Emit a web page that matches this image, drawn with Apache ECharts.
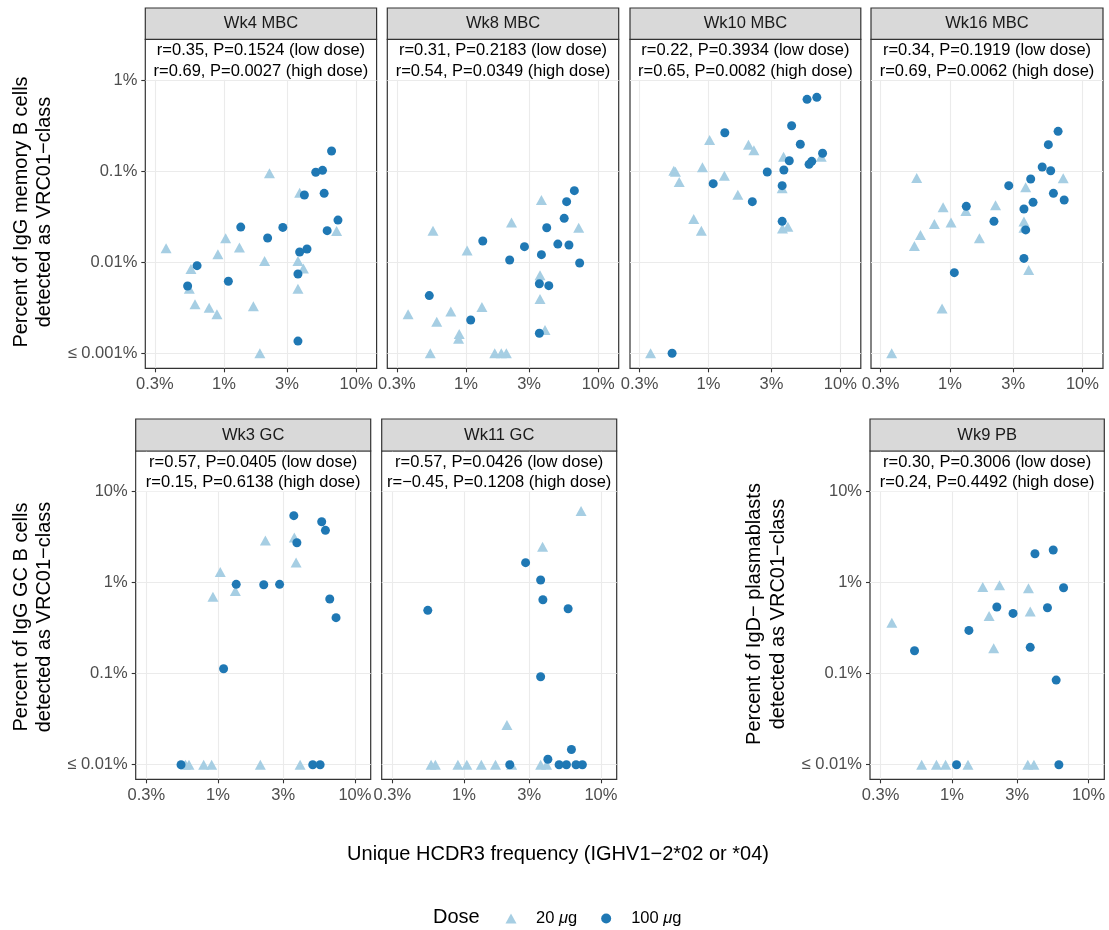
<!DOCTYPE html>
<html>
<head>
<meta charset="utf-8">
<script src="https://cdn.jsdelivr.net/npm/echarts@6/dist/echarts.min.js"></script>
<style>
html,body{margin:0;padding:0;background:#fff;}
#chart{width:1109px;height:930px;}
</style>
</head>
<body>
<div id="chart"></div>
<script>
// ---------------- DATA (x = unique HCDR3 frequency %, y = percent VRC01-class) ----------------
const panelNames = ['Wk4 MBC', 'Wk8 MBC', 'Wk10 MBC', 'Wk16 MBC', 'Wk3 GC', 'Wk11 GC', 'Wk9 PB'];
const panelStats = [
  'r=0.35, P=0.1524 (low dose)\nr=0.69, P=0.0027 (high dose)',
  'r=0.31, P=0.2183 (low dose)\nr=0.54, P=0.0349 (high dose)',
  'r=0.22, P=0.3934 (low dose)\nr=0.65, P=0.0082 (high dose)',
  'r=0.34, P=0.1919 (low dose)\nr=0.69, P=0.0062 (high dose)',
  'r=0.57, P=0.0405 (low dose)\nr=0.15, P=0.6138 (high dose)',
  'r=0.57, P=0.0426 (low dose)\nr=\u22120.45, P=0.1208 (high dose)',
  'r=0.30, P=0.3006 (low dose)\nr=0.24, P=0.4492 (high dose)'
];
const doseNames = ['20 \u03bcg', '100 \u03bcg'];

const xTickValues = [0.3, 1, 3, 10];
const xTickLabels = ['0.3%', '1%', '3%', '10%'];
const yTickValuesMBC = [0.001, 0.01, 0.1, 1];
const yTickLabelsMBC = ['\u2264 0.001%', '0.01%', '0.1%', '1%'];
const yTickValuesGC = [0.01, 0.1, 1, 10];
const yTickLabelsGC = ['\u2264 0.01%', '0.1%', '1%', '10%'];

const wk4MBC_20 = [[2.21,0.0945],[3.74,0.058],[7.12,0.022],[0.365,0.0142],[1.03,0.0183],[0.90,0.0122],[1.31,0.01445],[2.03,0.0103],[3.63,0.0103],[3.99,0.0085],[0.563,0.0084],[0.547,0.0051],[3.63,0.00512],[0.604,0.00345],[0.773,0.00317],[0.885,0.00268],[1.67,0.00328],[1.87,0.001]];
const wk4MBC_100 = [[6.52,0.166],[4.95,0.097],[5.57,0.102],[4.06,0.0547],[5.73,0.057],[7.29,0.029],[6.04,0.0222],[1.34,0.0243],[2.79,0.0241],[2.14,0.01845],[4.25,0.01396],[3.74,0.01294],[3.63,0.00742],[0.626,0.00916],[0.531,0.00548],[1.08,0.00617],[3.63,0.00136]];

const wk8MBC_20 = [[3.72,0.0482],[2.21,0.0272],[7.12,0.0239],[0.563,0.0222],[1.02,0.0134],[3.63,0.00718],[3.63,0.00395],[0.365,0.00268],[0.768,0.00287],[1.32,0.00322],[0.601,0.00222],[0.889,0.00163],[0.879,0.00144],[3.96,0.0018],[0.537,0.001],[1.65,0.001],[1.85,0.001],[2.02,0.001]];
const wk8MBC_100 = [[6.6,0.061],[5.77,0.0462],[5.53,0.0303],[4.08,0.0239],[4.95,0.0158],[6.01,0.01545],[1.34,0.0171],[2.77,0.0148],[3.72,0.0121],[2.14,0.01057],[7.24,0.0098],[3.59,0.0058],[4.23,0.00552],[0.528,0.0043],[1.086,0.00232],[3.59,0.00166]];

const wk10MBC_20 = [[1.02,0.219],[2.01,0.195],[2.21,0.169],[3.71,0.144],[7.16,0.144],[0.546,0.101],[0.562,0.0986],[0.90,0.110],[1.32,0.0891],[0.60,0.0759],[1.67,0.0551],[3.62,0.0647],[0.773,0.0298],[0.883,0.0222],[3.64,0.0235],[4.0,0.0245],[0.364,0.001]];
const wk10MBC_100 = [[5.59,0.613],[6.63,0.645],[4.27,0.315],[1.33,0.264],[4.97,0.197],[7.33,0.157],[4.10,0.130],[6.07,0.128],[5.79,0.1186],[2.79,0.0977],[3.73,0.1028],[1.086,0.0728],[3.62,0.0692],[2.15,0.0462],[3.62,0.0281],[0.53,0.001]];

const wk16MBC_20 = [[7.16,0.0833],[0.562,0.084],[3.73,0.0664],[2.21,0.0421],[0.889,0.040],[1.32,0.0365],[1.02,0.0272],[0.764,0.0262],[3.62,0.0279],[3.62,0.0239],[1.67,0.0183],[0.60,0.0199],[0.54,0.0151],[3.93,0.0082],[0.873,0.0031],[0.364,0.001]];
const wk16MBC_100 = [[6.55,0.273],[5.53,0.195],[4.97,0.111],[5.76,0.101],[2.78,0.0692],[4.07,0.0818],[6.04,0.057],[7.28,0.0482],[4.24,0.0454],[3.62,0.0384],[1.33,0.041],[2.15,0.0281],[3.73,0.0226],[3.62,0.0110],[1.08,0.00767]];

const wk3GC_20 = [[3.61,3.13],[2.22,2.90],[3.72,1.67],[1.04,1.31],[0.92,0.70],[1.34,0.81],[0.58,0.01],[0.615,0.01],[0.787,0.01],[0.90,0.01],[2.04,0.01],[3.98,0.01]];
const wk3GC_100 = [[3.58,5.45],[5.72,4.68],[6.09,3.76],[3.77,2.75],[1.36,0.96],[2.16,0.95],[2.82,0.96],[6.55,0.662],[7.28,0.413],[1.10,0.1135],[0.538,0.01],[4.92,0.01],[5.57,0.01]];

const wk11GC_20 = [[7.16,6.14],[3.75,2.49],[2.06,0.0273],[0.576,0.01],[0.619,0.01],[0.904,0.01],[1.05,0.01],[1.34,0.01],[1.70,0.01],[2.23,0.01],[3.63,0.01],[4.01,0.01]];
const wk11GC_100 = [[2.82,1.66],[3.63,1.07],[3.77,0.65],[0.545,0.497],[5.76,0.518],[3.63,0.0927],[6.09,0.0147],[4.10,0.0115],[2.16,0.01],[4.95,0.01],[5.60,0.01],[6.58,0.01],[7.32,0.01]];

const wk9PB_20 = [[1.68,0.895],[2.23,0.935],[3.63,0.867],[3.74,0.484],[1.87,0.431],[0.363,0.363],[2.02,0.191],[0.60,0.01],[0.77,0.01],[0.898,0.01],[1.31,0.01],[3.59,0.01],[3.98,0.01]];
const wk9PB_100 = [[5.51,2.29],[4.05,2.08],[6.56,0.88],[2.13,0.541],[5.0,0.531],[2.80,0.460],[1.33,0.299],[0.532,0.179],[3.74,0.195],[5.79,0.0851],[1.08,0.01],[6.06,0.01]];

const lowDose = [wk4MBC_20, wk8MBC_20, wk10MBC_20, wk16MBC_20, wk3GC_20, wk11GC_20, wk9PB_20];
const highDose = [wk4MBC_100, wk8MBC_100, wk10MBC_100, wk16MBC_100, wk3GC_100, wk11GC_100, wk9PB_100];

// ---------------- LAYOUT ----------------
const FONT = '"Liberation Sans", Arial, Helvetica, sans-serif';
const gridsPx = [
  [145.3, 39.3, 231.3, 329], [387.3, 39.3, 231.4, 329], [630, 39.3, 230.8, 329], [871, 39.3, 232, 329],
  [135.7, 451, 235, 328.3], [381.7, 451, 235, 328.3], [870, 451, 234.3, 328.3]
];
const showYLabels = [true, false, false, false, true, false, true];
const isMBC = i => i < 4;
const xRangeTop = [-0.595, 1.155];
const xRangeBot = [-0.600, 1.115];
const yRangeTop = [-3.165, 0.447];
const yRangeBot = [-2.16, 1.447];

const L = v => Math.log10(v);
const xTicksLog = xTickValues.map(L);

function labelFor(vals, labs) {
  return function (v) {
    for (let k = 0; k < vals.length; k++) if (Math.abs(L(vals[k]) - v) < 1e-6) return labs[k];
    return '';
  };
}

const grids = [], xAxes = [], yAxes = [], series = [], graphics = [];
gridsPx.forEach((g, i) => {
  grids.push({left: g[0], top: g[1], width: g[2], height: g[3], show: true, borderColor: '#333333', borderWidth: 1.2, backgroundColor: '#fff', containLabel: false});
  const xr = isMBC(i) ? xRangeTop : xRangeBot;
  const yr = isMBC(i) ? yRangeTop : yRangeBot;
  const yVals = isMBC(i) ? yTickValuesMBC : yTickValuesGC;
  const yLabs = isMBC(i) ? yTickLabelsMBC : yTickLabelsGC;
  xAxes.push({
    type: 'value', gridIndex: i, min: xr[0], max: xr[1], position: 'bottom',
    axisLine: {show: false, onZero: false},
    axisTick: {show: true, length: 4, lineStyle: {color: '#333333', width: 1.1}, customValues: xTicksLog},
    axisLabel: {customValues: xTicksLog, formatter: labelFor(xTickValues, xTickLabels), margin: 8, color: '#4D4D4D', fontSize: 16.5, fontFamily: FONT},
    splitLine: {show: true, lineStyle: {color: '#EBEBEB', width: 1.1}}
  });
  const yTicksLog = yVals.map(L);
  yAxes.push({
    type: 'value', gridIndex: i, min: yr[0], max: yr[1], position: 'left',
    axisLine: {show: false, onZero: false},
    axisTick: {show: showYLabels[i], length: 4, lineStyle: {color: '#333333', width: 1.1}, customValues: yTicksLog},
    axisLabel: {show: showYLabels[i], customValues: yTicksLog, formatter: labelFor(yVals, yLabs), margin: 8, color: '#4D4D4D', fontSize: 16.5, fontFamily: FONT},
    splitLine: {show: true, lineStyle: {color: '#EBEBEB', width: 1.1}}
  });
  const boxBottom = yTicksLog[yTicksLog.length - 1];
  const eps = 0.008;
  series.push({
    type: 'scatter', name: doseNames[0], xAxisIndex: i, yAxisIndex: i,
    symbol: 'triangle', symbolSize: [11, 10],
    itemStyle: {color: '#A6CEE3', opacity: 1},
    data: lowDose[i].map(p => [L(p[0]), L(p[1])]),
    markArea: {
      silent: true,
      itemStyle: {color: '#ffffff', opacity: 1, borderWidth: 0},
      label: {show: true, position: 'inside', formatter: panelStats[i], color: '#000', fontSize: 16.5, lineHeight: 20.7, fontFamily: FONT, offset: [0, 1]},
      data: [[{xAxis: xr[0] + eps, yAxis: boxBottom + 0.004}, {xAxis: xr[1] - eps, yAxis: yr[1] - eps}]]
    }
  });
  series.push({
    type: 'scatter', name: doseNames[1], xAxisIndex: i, yAxisIndex: i,
    symbol: 'circle', symbolSize: 9,
    itemStyle: {color: '#1F78B4', opacity: 1},
    data: highDose[i].map(p => [L(p[0]), L(p[1])])
  });
  // facet strip
  const stripH = isMBC(i) ? 31.3 : 32;
  graphics.push({
    type: 'rect', shape: {x: g[0], y: g[1] - stripH, width: g[2], height: stripH},
    style: {fill: '#D9D9D9', stroke: '#333333', lineWidth: 1.2}, z: 10
  });
  graphics.push({
    type: 'text', x: g[0] + g[2] / 2, y: g[1] - stripH / 2,
    style: {text: panelNames[i], fill: '#1A1A1A', font: '16.5px ' + FONT, textAlign: 'center', textVerticalAlign: 'middle'}, z: 11
  });
});

const yTitles = [
  {text: 'Percent of IgG memory B cells\ndetected as VRC01\u2212class', x: 33.3, y: 212},
  {text: 'Percent of IgG GC B cells\ndetected as VRC01\u2212class', x: 33.3, y: 617},
  {text: 'Percent of IgD\u2212 plasmablasts\ndetected as VRC01\u2212class', x: 766.5, y: 614}
];
yTitles.forEach(t => graphics.push({
  type: 'text', x: t.x, y: t.y, rotation: Math.PI / 2,
  style: {text: t.text, fill: '#000', font: '20px ' + FONT, textAlign: 'center', textVerticalAlign: 'middle', lineHeight: 23.3}, z: 11
}));
graphics.push({
  type: 'text', x: 558, y: 854,
  style: {text: 'Unique HCDR3 frequency (IGHV1\u22122*02 or *04)', fill: '#000', font: '20px ' + FONT, textAlign: 'center', textVerticalAlign: 'middle'}, z: 11
});
graphics.push({
  type: 'text', x: 433, y: 917,
  style: {text: 'Dose', fill: '#000', font: '20px ' + FONT, textAlign: 'left', textVerticalAlign: 'middle'}, z: 11
});

const option = {
  animation: false,
  backgroundColor: '#ffffff',
  grid: grids, xAxis: xAxes, yAxis: yAxes, series: series,
  legend: {
    left: 500.5, top: 905, orient: 'horizontal',
    itemWidth: 11, itemHeight: 10, itemGap: 24,
    data: [{name: doseNames[0], icon: 'triangle'}, {name: doseNames[1], icon: 'circle'}],
    formatter: n => '{s|}' + n.replace('\u03bc', '{i|\u03bc}'),
    textStyle: {fontSize: 16.5, fontFamily: FONT, color: '#000', rich: {
      s: {width: 14.5},
      i: {fontStyle: 'italic', fontSize: 16.5, fontFamily: FONT, color: '#000'}
    }}
  },
  graphic: graphics
};
const chart = echarts.init(document.getElementById('chart'), null, {renderer: 'canvas'});
chart.setOption(option);
</script>
</body>
</html>
